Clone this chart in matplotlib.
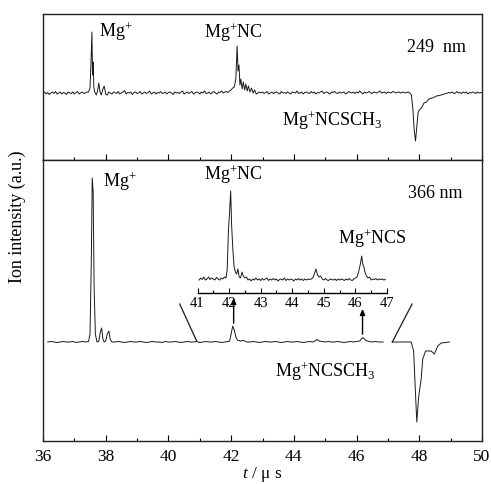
import numpy as np
import matplotlib
matplotlib.use("Agg")
import matplotlib.pyplot as plt
from matplotlib.ticker import MultipleLocator

plt.rcParams['font.family'] = ['Liberation Serif', 'DejaVu Serif']
plt.rcParams['mathtext.fontset'] = 'custom'
plt.rcParams['mathtext.rm'] = 'Liberation Serif'
plt.rcParams['mathtext.it'] = 'Liberation Serif:italic'

# ---------------- data ----------------
# 249 nm trace (time in us, signal in arbitrary units, baseline = 0)
top_t = [36.0, 36.05, 36.1, 36.15, 36.2, 36.25, 36.3, 36.35, 36.4, 36.45,
         36.5, 36.55, 36.6, 36.65, 36.7, 36.75, 36.8, 36.85, 36.9, 36.95,
         37.0, 37.05, 37.1, 37.15, 37.2, 37.25, 37.3, 37.35, 37.4,
         37.45, 37.5, 37.53, 37.56, 37.58, 37.6, 37.62, 37.65, 37.7, 37.74,
         37.78, 37.82, 37.86, 37.9, 37.95, 38.0, 38.05, 38.1,
         38.15, 38.2, 38.25, 38.3, 38.35, 38.4, 38.45, 38.5, 38.55, 38.6,
         38.65, 38.7, 38.75, 38.8, 38.85, 38.9, 38.95, 39.0, 39.05, 39.1,
         39.15, 39.2, 39.25, 39.3, 39.35, 39.4, 39.45, 39.5, 39.55, 39.6,
         39.65, 39.7, 39.75, 39.8, 39.85, 39.9, 39.95, 40.0, 40.05, 40.1,
         40.15, 40.2, 40.25, 40.3, 40.35, 40.4, 40.45, 40.5, 40.55, 40.6,
         40.65, 40.7, 40.75, 40.8, 40.85, 40.9, 40.95, 41.0, 41.05, 41.1,
         41.15, 41.2, 41.25, 41.3, 41.35, 41.4, 41.45, 41.5, 41.55, 41.6,
         41.65, 41.7, 41.75, 41.8, 41.85, 41.9,
         41.95, 42.0, 42.05, 42.1, 42.15, 42.19, 42.22, 42.25, 42.28, 42.31,
         42.35, 42.39, 42.43, 42.47, 42.51, 42.55, 42.6, 42.65, 42.7, 42.75,
         42.8, 42.9,
         42.95, 43.0, 43.05, 43.1, 43.15, 43.2, 43.25, 43.3, 43.35, 43.4,
         43.45, 43.5, 43.55, 43.6, 43.65, 43.7, 43.75, 43.8, 43.85, 43.9,
         43.95, 44.0, 44.05, 44.1, 44.15, 44.2, 44.25, 44.3, 44.35, 44.4,
         44.45, 44.5, 44.55, 44.6, 44.65, 44.7, 44.75, 44.8, 44.85, 44.9,
         44.95, 45.0, 45.05, 45.1, 45.15, 45.2, 45.25, 45.3, 45.35, 45.4,
         45.45, 45.5, 45.55, 45.6, 45.65, 45.7, 45.75, 45.8, 45.85, 45.9,
         45.95, 46.0, 46.05, 46.1, 46.15, 46.2, 46.25, 46.3, 46.35, 46.4,
         46.45, 46.5, 46.55, 46.6, 46.65, 46.7, 46.75, 46.8, 46.85, 46.9,
         46.95, 47.0, 47.05, 47.1, 47.15, 47.2, 47.25, 47.3, 47.35, 47.4,
         47.45, 47.5, 47.55, 47.6, 47.65, 47.7,
         47.75, 47.8, 47.84, 47.88, 47.92, 47.96, 48.0, 48.07, 48.15, 48.23,
         48.3, 48.42, 48.55, 48.7, 48.8, 48.9,
         48.95, 49.0, 49.05, 49.1, 49.15, 49.2, 49.25, 49.3, 49.35, 49.4,
         49.45, 49.5, 49.55, 49.6, 49.65, 49.7, 49.75, 49.8, 49.85, 49.9,
         49.95, 50.0]
top_signal = [0, 1, -1, 0.5, -1.5, 0, 1, -0.5, 1.5, -1,
              0, 1, -1, 0.5, 0, -1.5, 1, 0, -0.5, 1,
              -1, 0.5, 1.5, -1, 0, 1, -0.5, 0, 1,
              1, 5, 30, 61, 18, 31, 6, 1, -2, 2,
              10, 1, -2, 3, 7, -1, -2, 1,
              0, -1, 1, 0.5, -0.5, 1.5, -1, 0, 1, 2.5,
              -1, 0.5, 0, 1, -1.5, 0.5, 1, -0.5, 0, 1.5,
              -1, 0, 1, -0.5, 0.5, 2, -1, 0, 1, -1,
              0.5, 0, 1.5, -0.5, 0, 1, -1, 0.5, 1, 0,
              -1.5, 1, 0, 0.5, -0.5, 1, 2, -1, 0, 1,
              -0.5, 0.5, 1.5, -1, 0, 1, 0.5, -1, 1, 0,
              2, -0.5, 0, 1, -1, 0.5, 1.5, 0, -1, 1,
              0.5, 2, 0, 1, 1.5, 0.5,
              2, 3, 5, 6, 14, 47, 22, 28, 8, 14,
              4, 11, 3, 9, 2, 7, 1, 5, 0, 3,
              -1, 1,
              0, 1, -0.5, 0.5, 1.5, -1, 0, 1, -0.5, 0.5,
              1, 0, -1, 1.5, 0, 0.5, -0.5, 1, 0, -1,
              1, 0.5, 0, 2, -0.5, 0, 1, -1, 0.5, 1,
              0, -0.5, 1.5, 0, 1, -1, 0.5, 0, 1, 2,
              -0.5, 0.5, 1, 0, -1, 1, 0.5, 1.5, 0, -0.5,
              1, 0, 0.5, 1, -1, 0, 1.5, 0.5, 0, 1,
              -0.5, 1, 0, 2, 0.5, -1, 1, 0, 0.5, 1.5,
              0, -0.5, 1, 0.5, 0, 1, 2, 0, 0.5, 1,
              -0.5, 1, 0.5, 0, 1.5, 1, 0, 0.5, 1, 0,
              0.5, 1, 0, 0.5, 1, 0,
              -2, -18, -38, -48, -34, -20, -17, -15, -10, -9,
              -6, -5, -3, -2, -1, 0,
              0.5, 0, 1, -0.5, 0, 1.5, 0, 0.5, -0.5, 1,
              0, 1, -1, 0.5, 0, 1, 0.5, -0.5, 1, 0,
              0.5, 0]

# 366 nm trace (left part up to 46.85 us, right part from 47.14 us)
bot_t_left = [36.15, 36.25, 36.35, 36.45, 36.55, 36.65, 36.75, 36.85, 36.95, 37.05,
              37.15, 37.25, 37.35, 37.45,
              37.5, 37.54, 37.57, 37.6, 37.63, 37.67, 37.72, 37.78, 37.83, 37.87,
              37.91, 37.95, 38.0, 38.05, 38.1, 38.14, 38.2,
              38.3, 38.4, 38.5, 38.6, 38.7, 38.8, 38.9, 39.0, 39.1, 39.2,
              39.3, 39.4, 39.5, 39.6, 39.7, 39.8, 39.9, 40.0, 40.1, 40.2,
              40.3, 40.4, 40.5, 40.6, 40.7, 40.8, 40.9, 41.0, 41.1, 41.2,
              41.3, 41.4, 41.5, 41.6, 41.7, 41.8, 41.9,
              41.95, 42.0, 42.05, 42.1, 42.15, 42.2, 42.3, 42.4, 42.5,
              42.6, 42.7, 42.8, 42.9, 43.0, 43.1, 43.2, 43.3, 43.4, 43.5,
              43.6, 43.7, 43.8, 43.9, 44.0, 44.1, 44.2, 44.3, 44.4, 44.5, 44.6,
              44.7, 44.75, 44.8, 44.9,
              45.0, 45.1, 45.2, 45.3, 45.4, 45.5, 45.6, 45.7, 45.8, 45.9, 46.0,
              46.1, 46.15, 46.2, 46.25, 46.3, 46.4, 46.5, 46.6, 46.7, 46.85]
bot_signal_left = [0, 0.5, 0, -0.5, 0, 0.5, 0, 0, 0.5, -0.5,
                   0, 0.5, 0, 0.5,
                   8, 80, 164, 150, 55, 8, 0, 1, 10, 14,
                   3, 0, 1, 8, 11, 3, 0,
                   0, 0.5, 0, -0.5, 0, 0.5, 0, 0, 0.5, 0,
                   -0.5, 0, 0.5, 0, 0, -0.5, 0.5, 0, 0, 0.5,
                   0, -0.5, 0, 0.5, 0, 0, 0.5, -0.5, 0, 0.5,
                   0, 0, 0.5, 0, -0.5, 0, 0.5,
                   1, 8, 16, 12, 5, 2, 1, 1.5, 0,
                   0, 0.5, 0, -0.5, 0, 0.5, 0, 0, 0.5, 0,
                   -0.5, 0, 0.5, 0, 0, 0.5, 0, -0.5, 0, 0.5, 0,
                   1.5, 2.5, 1, 0.5,
                   0, 0.5, 0, 0, 0.5, 0, -0.5, 0, 0.5, 0, 0.5,
                   1, 3, 4.5, 3, 1.5, 0.5, 0, 0.5, 0, 0]
bot_t_right = [47.14, 47.3, 47.5, 47.74, 47.82, 47.87, 47.92, 47.98, 48.06, 48.11,
               48.2, 48.38, 48.48, 48.59, 48.7, 48.96]
bot_signal_right = [0, 0, 0, 0, -9, -45, -80, -55, -37, -17,
                    -9, -9, -12, -4, -1, 0]

# inset (magnified 366 nm trace, 41-47 us)
ins_t = [41.05, 41.1, 41.15, 41.2, 41.25, 41.3, 41.35, 41.4, 41.45, 41.5,
         41.55, 41.6, 41.65, 41.7, 41.75, 41.8, 41.85,
         41.9, 41.94, 41.98, 42.02, 42.05, 42.08, 42.12, 42.16, 42.2, 42.24,
         42.28, 42.32, 42.36, 42.41, 42.45, 42.5, 42.55, 42.6,
         42.65, 42.7, 42.75, 42.8, 42.85, 42.9, 42.95, 43.0, 43.05, 43.1,
         43.15, 43.2, 43.25, 43.3, 43.35, 43.4, 43.45, 43.5, 43.55, 43.6,
         43.65, 43.7, 43.75, 43.8, 43.85, 43.9, 43.95, 44.0, 44.05, 44.1,
         44.15, 44.2, 44.25, 44.3, 44.35, 44.4, 44.45, 44.5, 44.55, 44.6,
         44.65, 44.7, 44.75, 44.8, 44.85, 44.9, 44.95,
         45.0, 45.05, 45.1, 45.15, 45.2, 45.25, 45.3, 45.35, 45.4, 45.45,
         45.5, 45.55, 45.6, 45.65, 45.7, 45.75, 45.8, 45.85, 45.9, 45.95, 46.0,
         46.05, 46.1, 46.15, 46.2, 46.23, 46.27, 46.3, 46.35, 46.4, 46.45,
         46.5, 46.55, 46.6, 46.65, 46.7, 46.75, 46.8, 46.85, 46.9, 46.95]
ins_signal = [0, 2, 0.5, 3, 0, 1, 3, 0.5, 2, 1,
              0, 2.5, 1, 0, 2, 1, 3,
              2, 10, 50, 70, 89, 55, 30, 13, 8, 6,
              11, 3, 2, 8, 4, 2, 3, 0,
              1, -1, 1, 0, 2, 0, 1, -0.5, 1.5, 0,
              1, 2, -0.5, 1, 0, 1.5, 0, 1, -1, 0.5,
              1, 0, 2, -0.5, 1, 0, 1, 0.5, -1, 1,
              0, 1.5, 0, 1, -0.5, 1, 0, 1, 0.5, 1,
              2, 6, 11, 5, 3, 4, 1,
              0, 1.5, 0, -0.5, 1, 0.5, 0, 1, -0.5, 1,
              0, 1, 0.5, -0.5, 1, 0, 1.5, 0, -0.5, 1, 2,
              3, 8, 15, 24, 16, 13, 8, 4, 2, 3,
              0, 1, 0.5, 1.5, 0, 1, 0.5, 1, 0, 0.5]
ins_ticks = [41, 42, 43, 44, 45, 46, 47]

# ---------------- figure ----------------
fig = plt.figure(figsize=(4.91, 4.85), dpi=100)
W, H = 491.0, 485.0
left, right = 43 / W, 482 / W
y_top, y_mid, y_bot = 1 - 15 / H, 1 - 161 / H, 1 - 442 / H

ax1 = fig.add_axes([left, y_mid, right - left, y_top - y_mid])
ax2 = fig.add_axes([left, y_bot, right - left, y_mid - y_bot])

lc = '#1a1a1a'
lw = 0.7

ax1.plot(top_t, top_signal, color=lc, lw=lw)
ax2.plot(bot_t_left, bot_signal_left, color=lc, lw=lw)
ax2.plot(bot_t_right, bot_signal_right, color=lc, lw=lw)

for ax in (ax1, ax2):
    ax.set_xlim(36, 50)
    ax.xaxis.set_major_locator(MultipleLocator(2))
    ax.xaxis.set_minor_locator(MultipleLocator(1))
    ax.tick_params(axis='x', which='major', direction='in', length=4, width=0.8,
                   labelsize=12.5, pad=5, top=False)
    ax.tick_params(axis='x', which='minor', direction='in', length=2.5, width=0.8, top=False)
    ax.set_yticks([])
    for s in ax.spines.values():
        s.set_linewidth(1.0)
        s.set_color('#222222')

ax1.set_ylim(-67, 79)
ax2.set_ylim(-99, 182)
ax1.tick_params(axis='x', labelbottom=False)

fs = 13
ax1.text(37.8, 62, 'Mg$^{+}$', fontsize=fs, va='center', ha='left')
ax1.text(41.15, 61, 'Mg$^{+}$NC', fontsize=fs, va='center', ha='left')
ax1.text(47.6, 46, '249  nm', fontsize=fs, va='center', ha='left')
ax1.text(43.62, -27, 'Mg$^{+}$NCSCH$_{3}$', fontsize=fs, va='center', ha='left')

ax2.text(37.9, 161, 'Mg$^{+}$', fontsize=fs, va='center', ha='left')
ax2.text(41.15, 168, 'Mg$^{+}$NC', fontsize=fs, va='center', ha='left')
ax2.text(47.65, 149, '366 nm', fontsize=fs, va='center', ha='left')
ax2.text(45.42, 104, 'Mg$^{+}$NCS', fontsize=fs, va='center', ha='left')
ax2.text(43.4, -29, 'Mg$^{+}$NCSCH$_{3}$', fontsize=fs, va='center', ha='left')

# zoom indicator lines
ax2.plot([40.36, 40.9], [38, 1], color=lc, lw=0.9)
ax2.plot([47.77, 47.14], [38, 0], color=lc, lw=0.9)

# arrows from peaks to the inset
arrow_kw = dict(arrowstyle='-|>,head_length=0.35,head_width=0.15', color='black', lw=1.0)
ax2.annotate('', xy=(42.08, 47), xytext=(42.08, 16), arrowprops=arrow_kw)
ax2.annotate('', xy=(46.19, 36), xytext=(46.19, 5), arrowprops=arrow_kw)

ax2.set_xlabel('$t$ / μ s', fontsize=12.5, labelpad=0)
fig.text(17 / W, 1 - 217 / H, 'Ion intensity (a.u.)', rotation=90,
         fontsize=13, va='center', ha='center')

# inset
ins_left, ins_right = 197.5 / W, 387 / W
ins_bottom, ins_top = 1 - 294 / H, 1 - 185 / H
axi = fig.add_axes([ins_left, ins_bottom, ins_right - ins_left, ins_top - ins_bottom])
axi.patch.set_alpha(0)
axi.plot(ins_t, ins_signal, color=lc, lw=lw)
axi.set_xlim(41, 47)
axi.set_ylim(-13, 96)
axi.set_xticks(ins_ticks)
axi.xaxis.set_minor_locator(MultipleLocator(0.5))
axi.set_yticks([])
for s in ('left', 'right', 'top'):
    axi.spines[s].set_visible(False)
axi.spines['bottom'].set_linewidth(1.0)
axi.tick_params(axis='x', which='major', direction='in', length=3.5, width=0.8,
                labelsize=10.5, pad=2)
axi.tick_params(axis='x', which='minor', direction='in', length=2.5, width=0.8)

fig.savefig('out.png', dpi=100)
